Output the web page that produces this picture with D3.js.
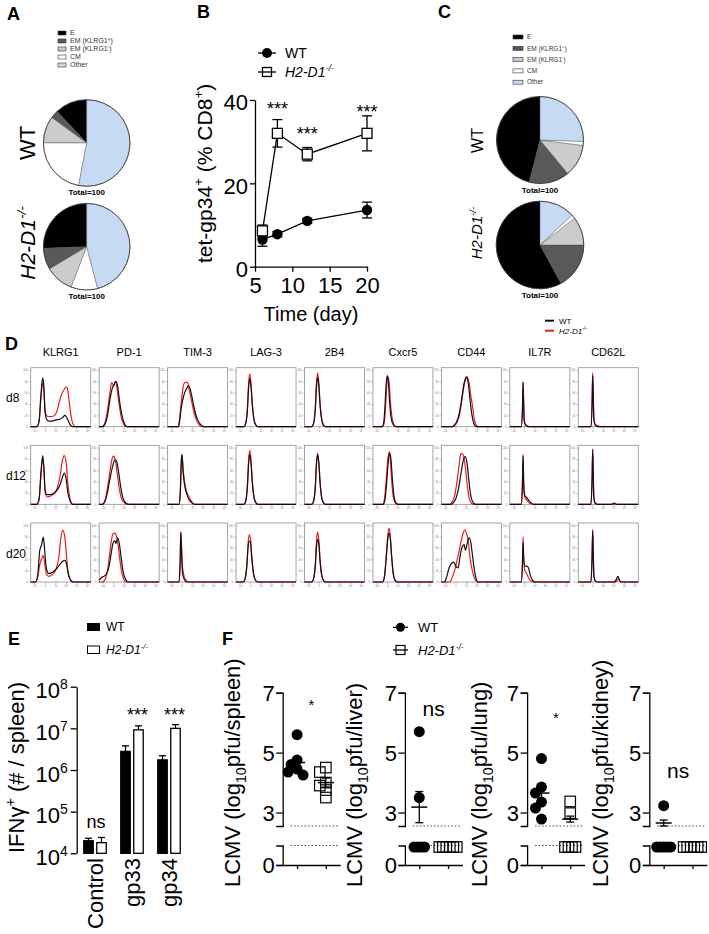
<!DOCTYPE html>
<html><head><meta charset="utf-8">
<script src="https://cdn.jsdelivr.net/npm/d3@7"></script>
<style>
body{margin:0;background:#fff}
svg{display:block}
text{font-family:"Liberation Sans",Arial,Helvetica,sans-serif}
</style>
</head><body>
<svg id="c" width="709" height="934"></svg>
<script>
// ---------------- DATA ----------------
const pieCategories = ["E","EM (KLRG1+)","EM (KLRG1-)","CM","Other"];
const pieA_WT = [12, 3, 10, 22, 53];
const pieA_KO = [25.6, 8, 10.6, 9.9, 45.9];
const pieC_WT = [46, 15, 12, 1.5, 25.5];
const pieC_KO = [58, 17, 10.5, 1.5, 13];

const daysB = [6, 8, 12, 20];
const wtB = [6.5, 7.8, 11, 13.6];
const wtBerr = [1.6, 0.6, 0.6, 1.9];
const koB = [8.6, 32, 27, 32];
const koBerr = [1.4, 3.3, 1.6, 4.2];
const sigDaysB = [8, 12, 20];
const sigYB = [38.8, 32.8, 38.2];
const sigTextB = ["***", "***", "***"];
const yTicksB = [0, 20, 40];
const xTicksB = [5, 10, 15, 20];

const histMarkers = ["KLRG1","PD-1","TIM-3","LAG-3","2B4","Cxcr5","CD44","IL7R","CD62L"];
const histDays = ["d8","d12","d20"];
const histTickLabelsX = ["-10³","0","10³","10⁴","10⁵","10⁶"];
const histTickLabelsY = [0, 20, 40, 60, 80, 100];
// each: [ [WT, KO] for d8, d12, d20 ] ; points = [x %, y % of max]
const hKLRG1 = [
 [[[10,0],[14,10],[17,55],[20,86],[22,70],[24,25],[27,12],[30,10],[36,10],[42,12],[48,13],[53,16],[57,20],[59,18],[62,12],[65,5],[68,1],[71,0]],
  [[10,0],[14,10],[17,50],[20,78],[22,62],[24,28],[27,19],[30,18],[35,18],[40,20],[44,28],[48,45],[52,58],[56,66],[59,70],[61,68],[63,55],[66,28],[69,10],[72,2],[76,0]]],
 [[[10,0],[14,10],[17,55],[20,86],[22,65],[24,25],[27,17],[32,17],[38,19],[44,25],[49,35],[53,48],[56,55],[59,45],[62,20],[66,5],[70,0]],
  [[10,0],[14,8],[17,50],[20,82],[22,60],[24,22],[27,13],[32,14],[38,18],[44,28],[49,50],[53,78],[56,86],[59,75],[62,35],[66,8],[70,0]]],
 [[[8,0],[12,15],[15,55],[18,65],[21,79],[23,60],[26,25],[30,15],[36,17],[42,22],[48,30],[53,36],[57,38],[60,30],[63,12],[67,3],[70,0]],
  [[8,0],[12,10],[15,30],[18,40],[21,47],[23,35],[26,15],[30,10],[36,13],[42,22],[47,45],[50,75],[53,91],[56,85],[59,55],[62,20],[66,4],[70,0]]]
];
const hPD1 = [
 [[[5,0],[10,5],[14,20],[18,48],[22,68],[25,74],[28,80],[31,70],[34,45],[38,20],[42,6],[46,0]],
  [[5,0],[10,8],[14,30],[18,60],[21,78],[24,72],[27,80],[30,66],[33,42],[37,16],[41,4],[45,0]]],
 [[[5,0],[10,6],[14,22],[18,45],[22,65],[26,78],[29,76],[32,60],[36,30],[40,10],[45,2],[50,0]],
  [[5,0],[10,8],[14,30],[18,58],[21,78],[24,85],[27,78],[30,55],[34,25],[38,8],[43,2],[48,0]]],
 [[[0,3],[4,8],[8,10],[12,14],[16,25],[20,50],[23,68],[26,73],[28,68],[31,78],[34,65],[37,40],[40,18],[44,5],[48,0]],
  [[0,0],[5,0],[9,3],[13,15],[17,45],[20,70],[23,85],[26,86],[29,80],[32,62],[35,35],[38,15],[42,3],[46,0]]]
];
const hTIM3 = [
 [[[18,0],[20,10],[23,35],[27,55],[31,66],[35,72],[38,65],[42,45],[46,25],[50,12],[55,4],[60,0]],
  [[18,0],[20,15],[23,45],[27,75],[30,78],[33,78],[36,65],[40,45],[44,25],[48,12],[53,3],[58,0]]],
 [[[19,0],[21,20],[23,80],[24,88],[26,55],[29,30],[32,18],[36,8],[40,3],[45,0]],
  [[19,0],[21,15],[23,75],[24,86],[26,60],[29,35],[32,22],[36,12],[40,5],[47,0]]],
 [[[19,0],[21,40],[22,88],[23,60],[25,15],[28,4],[32,0]],
  [[19,0],[21,35],[22,88],[23,70],[25,25],[28,8],[32,2],[36,0]]]
];
const hLAG3 = [
 [[[13,0],[16,5],[19,30],[21,70],[23,85],[25,70],[27,40],[30,12],[33,3],[36,0]],
  [[13,0],[16,6],[19,35],[21,78],[23,93],[25,75],[27,42],[30,12],[33,3],[36,0]]],
 [[[13,0],[16,5],[19,32],[21,72],[23,88],[25,72],[27,40],[30,12],[33,3],[36,0]],
  [[13,0],[16,6],[19,36],[21,80],[23,95],[25,76],[27,42],[30,12],[33,3],[36,0]]],
 [[[12,0],[15,5],[18,28],[20,60],[22,72],[24,70],[26,45],[29,15],[32,4],[36,0]],
  [[12,0],[15,6],[18,32],[20,68],[22,83],[24,78],[26,48],[29,16],[32,4],[36,0]]]
];
const h2B4 = [
 [[[12,0],[15,5],[18,30],[20,70],[22,87],[24,70],[26,38],[29,10],[32,2],[35,0]],
  [[12,0],[15,6],[18,35],[20,78],[22,95],[24,75],[26,40],[29,12],[32,3],[35,0]]],
 [[[12,0],[15,5],[18,30],[20,72],[22,88],[24,70],[26,38],[29,10],[32,2],[35,0]],
  [[12,0],[15,5],[18,32],[20,74],[22,90],[24,72],[26,38],[29,10],[32,2],[35,0]]],
 [[[12,0],[15,5],[18,28],[20,62],[22,75],[24,65],[26,36],[29,10],[32,2],[35,0]],
  [[12,0],[15,6],[18,32],[20,72],[22,88],[24,72],[26,38],[29,11],[32,2],[35,0]]]
];
const hCxcr5 = [
 [[[15,0],[18,8],[20,35],[22,75],[24,90],[26,75],[28,40],[31,12],[34,3],[38,0]],
  [[16,0],[19,8],[21,35],[23,72],[25,88],[27,78],[29,45],[32,15],[35,4],[39,0]]],
 [[[17,0],[20,8],[23,40],[26,80],[28,90],[30,80],[32,50],[35,15],[38,3],[42,0]],
  [[16,0],[19,8],[22,42],[25,82],[27,93],[29,78],[31,45],[34,12],[37,3],[41,0]]],
 [[[16,0],[19,8],[22,40],[25,78],[27,86],[29,76],[31,48],[34,15],[37,3],[41,0]],
  [[16,0],[19,8],[22,45],[25,85],[27,95],[29,80],[31,46],[34,12],[37,3],[41,0]]]
];
const hCD44 = [
 [[[18,0],[22,3],[26,10],[30,25],[34,50],[37,72],[40,85],[42,88],[45,75],[48,45],[51,20],[54,6],[58,0]],
  [[18,0],[22,2],[26,8],[30,20],[34,45],[37,68],[40,82],[43,88],[46,78],[49,55],[52,35],[55,12],[58,3],[62,0]]],
 [[[16,0],[20,3],[24,10],[28,25],[32,50],[35,70],[38,82],[40,84],[43,70],[46,40],[49,15],[53,3],[57,0]],
  [[14,0],[18,4],[22,15],[26,40],[29,65],[32,88],[34,90],[37,85],[40,65],[43,35],[46,12],[50,2],[54,0]]],
 [[[5,0],[9,10],[13,25],[17,33],[21,35],[24,28],[28,25],[31,45],[34,60],[38,66],[40,56],[43,68],[46,78],[49,70],[52,45],[54,28],[57,10],[61,0]],
  [[14,0],[18,8],[22,20],[26,38],[31,62],[35,82],[39,92],[42,85],[45,70],[48,40],[52,18],[56,5],[60,0]]]
];
const hIL7R = [
 [[[19,0],[21,30],[22,78],[23,40],[24,10],[26,3],[30,0]],
  [[19,0],[21,30],[22,80],[23,45],[24,12],[26,4],[30,1],[35,0]]],
 [[[19,0],[21,35],[22,85],[23,40],[25,15],[28,12],[31,8],[35,3],[40,0]],
  [[19,0],[21,35],[22,88],[23,40],[25,12],[28,8],[31,4],[35,1],[40,0]]],
 [[[19,0],[21,30],[22,70],[23,45],[25,28],[28,28],[31,25],[34,12],[38,3],[42,0]],
  [[19,0],[21,35],[22,80],[23,40],[25,20],[28,15],[31,8],[35,2],[40,0]]]
];
const hCD62L = [
 [[[21,0],[23,40],[24,90],[25,50],[26,12],[28,3],[32,0]],
  [[21,0],[23,45],[24,95],[25,55],[26,15],[28,5],[34,1],[40,0]]],
 [[[21,0],[23,45],[24,96],[25,50],[26,10],[28,2],[32,0],[55,0],[60,2],[64,0]],
  [[21,0],[23,45],[24,98],[25,50],[26,12],[28,3],[32,0]]],
 [[[21,0],[23,45],[24,90],[25,45],[26,10],[28,2],[32,0],[60,0],[63,4],[66,10],[68,5],[71,0]],
  [[21,0],[23,45],[24,93],[25,50],[26,12],[28,3],[32,0],[62,0],[65,3],[67,5],[69,2],[72,0]]]
];

const catsE = ["Control", "gp33", "gp34"];
const wtE = [2.0e4, 2.8e6, 1.75e6];
const wtEerr = [0.3e4, 1.0e6, 0.45e6];
const koE = [1.8e4, 9.2e6, 1.0e7];
const koEerr = [0.6e4, 2.3e6, 2.3e6];
const sigE = ["ns", "***", "***"];
const yTicksE = [1e4, 1e5, 1e6, 1e7, 1e8];

const organsF = ["spleen", "liver", "lung", "kidney"];
// null = below detection (plotted on the lower dotted line)
const fWT_spleen = [5.6, 4.75, 4.6, 4.45, 4.35, 4.25];
const fKO_spleen = [4.5, 4.35, 4.0, 3.9, 3.75, 3.5];
const fWT_liver = [5.7, 3.5, null, null, null, null];
const fKO_liver = [null, null, null, null, null, null];
const fWT_lung = [4.8, 3.85, 3.65, 3.35, 3.15, 2.78];
const fKO_lung = [3.37, 2.98, null, null, null, null];
const fWT_kidney = [3.23, null, null, null, null, null];
const fKO_kidney = [null, null, null, null, null, null];
const fMeanWT = [4.67, 3.18, 3.65, 2.65];
const fSemWT = [0.15, 0.52, 0.3, 0.1];
const fMeanKO = [4.0, 2.47, 2.78, 2.47];
const fSemKO = [0.15, 0, 0.1, 0];
const fSig = ["*", "ns", "*", "ns"];
const fSigY = [6.7, 6.4, 6.25, 4.35];
const yTicksF = [3, 5, 7];

// ---------------- HELPERS ----------------
const svg = d3.select("#c");
const pieColors = ["#000000", "#595959", "#cccccc", "#ffffff", "#c6dbf3"];

function rich(sel, parts, fs) {
  let shift = 0;
  parts.forEach(([t, type]) => {
    const ts = sel.append("tspan").text(t);
    let target = 0;
    if (type.includes("sup")) { ts.attr("font-size", fs * 0.65); target = -fs * 0.42; }
    if (type.includes("sub")) { ts.attr("font-size", fs * 0.65); target = fs * 0.25; }
    if (type.includes("it")) ts.attr("font-style", "italic");
    if (target !== shift) { ts.attr("dy", target - shift); shift = target; }
  });
}
const koParts = [["H2-D1", "it"], ["-/-", "itsup"]];

function letter(t, x, y) {
  svg.append("text").attr("x", x).attr("y", y).attr("font-size", 18)
    .attr("font-weight", "bold").text(t);
}
function styleAxis(g, fs, sw) {
  g.attr("font-family", '"Liberation Sans",Arial,sans-serif').attr("font-size", fs);
  g.selectAll("path,line").attr("stroke", "#000").attr("stroke-width", sw);
  g.selectAll("text").attr("fill", "#000");
}

// ---------------- PANEL LETTERS ----------------
letter("A", 7, 20); letter("B", 197, 18); letter("C", 438, 18);
letter("D", 5, 350); letter("E", 8, 645); letter("F", 222, 645);

// ---------------- PIES (A, C) ----------------
function legendLabel(sel, label, fs) {
  const m = label.match(/^(.*KLRG1)([+-])\)$/);
  if (m) rich(sel, [[m[1], "n"], [m[2], "sup"], [")", "n"]], fs);
  else sel.text(label);
}
function pieLegend(x, y0, dy, sw, sh, fs) {
  pieCategories.forEach((c, i) => {
    const y = y0 + i * dy;
    svg.append("rect").attr("x", x).attr("y", y - sh / 2).attr("width", sw).attr("height", sh)
      .attr("fill", pieColors[i]).attr("stroke", "#333").attr("stroke-width", 0.6);
    const t = svg.append("text").attr("x", x + sw + 4).attr("y", y + fs * 0.35)
      .attr("font-size", fs).attr("fill", "#333");
    legendLabel(t, c, fs);
  });
}
function drawPie(cx, cy, r, vals) {
  const pie = d3.pie().sort(null).value(d => d).startAngle(0).endAngle(-2 * Math.PI);
  const arc = d3.arc().innerRadius(0).outerRadius(r);
  const g = svg.append("g").attr("transform", `translate(${cx},${cy})`);
  g.selectAll("path").data(pie(vals)).join("path").attr("d", arc)
    .attr("fill", (d, i) => pieColors[i]).attr("stroke", "#444").attr("stroke-width", 0.4);
  g.append("circle").attr("r", r).attr("fill", "none").attr("stroke", "#333").attr("stroke-width", 0.8);
  g.append("text").attr("y", r + 9).attr("text-anchor", "middle").attr("font-size", 8)
    .attr("font-weight", "bold").text("Total=100");
}
function rotLabel(x, y, fs, isKO) {
  const t = svg.append("text").attr("transform", `translate(${x},${y}) rotate(-90)`)
    .attr("text-anchor", "middle").attr("font-size", fs);
  if (isKO) rich(t, koParts, fs); else t.text("WT");
}
pieLegend(58, 33, 8, 8, 4, 7);
drawPie(86.7, 143, 43.3, pieA_WT);
drawPie(86.7, 246.7, 43.3, pieA_KO);
rotLabel(35, 143, 22, false);
rotLabel(35, 243, 21, true);

pieLegend(513, 37, 11.3, 10, 4, 6.5);
drawPie(540, 140, 43.5, pieC_WT);
drawPie(540, 245, 43.8, pieC_KO);
rotLabel(483, 140.5, 16, false);
rotLabel(482, 233, 15, true);

// ---------------- PANEL B ----------------
(function () {
  const x = d3.scaleLinear([5, 20], [255, 367]);
  const y = d3.scaleLinear([0, 40], [266.7, 100]);
  const gy = svg.append("g").attr("transform", "translate(255,0)")
    .call(d3.axisLeft(y).tickValues(yTicksB).tickSize(5).tickSizeOuter(0).tickPadding(2));
  styleAxis(gy, 22, 1.3);
  gy.selectAll("text").attr("dy", "0.45em");
  const gx = svg.append("g").attr("transform", "translate(0,266.7)")
    .call(d3.axisBottom(x).tickValues(xTicksB).tickSize(5).tickSizeOuter(0).tickPadding(6));
  styleAxis(gx, 22, 1.3);
  svg.append("text").attr("x", 311).attr("y", 321).attr("text-anchor", "middle")
    .attr("font-size", 20).text("Time (day)");
  const yl = svg.append("text").attr("transform", "translate(212,263) rotate(-90)").attr("font-size", 21);
  rich(yl, [["tet-gp34", "n"], ["+", "sup"], [" (% CD8", "n"], ["+", "sup"], [")", "n"]], 21);

  const line = d3.line().x(d => x(d[0])).y(d => y(d[1]));
  const wt = daysB.map((d, i) => [d, wtB[i], wtBerr[i]]);
  const ko = daysB.map((d, i) => [d, koB[i], koBerr[i]]);
  [wt, ko].forEach(s => {
    svg.append("path").attr("d", line(s)).attr("fill", "none").attr("stroke", "#000").attr("stroke-width", 1.3);
    s.forEach(p => {
      const xx = x(p[0]), y1 = y(p[1] + p[2]), y2 = y(p[1] - p[2]);
      svg.append("line").attr("x1", xx).attr("x2", xx).attr("y1", y1).attr("y2", y2).attr("stroke", "#000").attr("stroke-width", 1.3);
      [y1, y2].forEach(yy => svg.append("line").attr("x1", xx - 5).attr("x2", xx + 5).attr("y1", yy).attr("y2", yy).attr("stroke", "#000").attr("stroke-width", 1.3));
    });
  });
  wt.forEach(p => svg.append("circle").attr("cx", x(p[0])).attr("cy", y(p[1])).attr("r", 5.2).attr("fill", "#000"));
  ko.forEach(p => svg.append("rect").attr("x", x(p[0]) - 5).attr("y", y(p[1]) - 5).attr("width", 10).attr("height", 10)
    .attr("fill", "#fff").attr("stroke", "#000").attr("stroke-width", 1.3));
  sigDaysB.forEach((d, i) => svg.append("text").attr("x", x(d)).attr("y", y(sigYB[i]) + 10)
    .attr("text-anchor", "middle").attr("font-size", 18).text(sigTextB[i]));
  // legend
  svg.append("line").attr("x1", 258).attr("x2", 276).attr("y1", 53).attr("y2", 53).attr("stroke", "#000").attr("stroke-width", 1.3);
  svg.append("circle").attr("cx", 267).attr("cy", 53).attr("r", 5).attr("fill", "#000");
  svg.append("text").attr("x", 285).attr("y", 58).attr("font-size", 14).text("WT");
  svg.append("line").attr("x1", 258).attr("x2", 276).attr("y1", 72).attr("y2", 72).attr("stroke", "#000").attr("stroke-width", 1.3);
  svg.append("rect").attr("x", 262.5).attr("y", 67.5).attr("width", 9).attr("height", 9).attr("fill", "none").attr("stroke", "#000").attr("stroke-width", 1.3);
  const lt = svg.append("text").attr("x", 285).attr("y", 77).attr("font-size", 14);
  rich(lt, koParts, 14);
})();

// ---------------- PANEL D ----------------
(function () {
  const hData = [hKLRG1, hPD1, hTIM3, hLAG3, h2B4, hCxcr5, hCD44, hIL7R, hCD62L];
  const colX = d3.scaleBand(histMarkers, [30.7, 30.7 + 68.45 * 9]);
  const rowY = d3.scaleBand(histDays, [367.7, 367.7 + 77.65 * 3]);
  const W = 60, H = 59;
  histMarkers.forEach(m => svg.append("text").attr("x", colX(m) + W / 2).attr("y", 356)
    .attr("text-anchor", "middle").attr("font-size", 11).text(m));
  histDays.forEach(d => svg.append("text").attr("x", 6).attr("y", rowY(d) + H / 2 + 5)
    .attr("font-size", 12).text(d));
  hData.forEach((col, ci) => {
    col.forEach((pair, ri) => {
      const x0 = colX(histMarkers[ci]), y0 = rowY(histDays[ri]);
      const hx = d3.scaleLinear([0, 100], [x0, x0 + W]);
      const hy = d3.scaleLinear([0, 104], [y0 + H, y0]);
      const g = svg.append("g");
      g.append("rect").attr("x", x0).attr("y", y0).attr("width", W).attr("height", H)
        .attr("fill", "none").attr("stroke", "#9a9a9a").attr("stroke-width", 0.9);
      const ya = g.append("g").attr("transform", `translate(${x0},0)`)
        .call(d3.axisLeft(hy).tickValues(histTickLabelsY).tickSize(2).tickPadding(1));
      ya.select(".domain").remove();
      ya.selectAll("line").attr("stroke", "#888").attr("stroke-width", 0.5);
      ya.selectAll("text").attr("font-size", 2.6).attr("fill", "#777");
      const tx = d3.scalePoint(histTickLabelsX, [x0 + 3.6, x0 + W - 3.6]);
      const xa = g.append("g").attr("transform", `translate(0,${y0 + H})`)
        .call(d3.axisBottom(tx).tickSize(2).tickPadding(1));
      xa.select(".domain").remove();
      xa.selectAll("line").attr("stroke", "#888").attr("stroke-width", 0.5);
      xa.selectAll("text").attr("font-size", 2.6).attr("fill", "#777");
      const line = d3.line().x(d => hx(d[0])).y(d => hy(d[1])).curve(d3.curveMonotoneX);
      const ext = pts => {
        const p = pts.slice();
        if (p[0][0] > 0) p.unshift([0, 0]);
        if (p[p.length - 1][0] < 100) p.push([100, 0]);
        return p;
      };
      g.append("path").attr("d", line(ext(pair[1]))).attr("fill", "none").attr("stroke", "#ee1c1c").attr("stroke-width", 1.2);
      g.append("path").attr("d", line(ext(pair[0]))).attr("fill", "none").attr("stroke", "#111").attr("stroke-width", 1.2);
    });
  });
  // legend
  svg.append("line").attr("x1", 545).attr("x2", 554).attr("y1", 320.7).attr("y2", 320.7).attr("stroke", "#111").attr("stroke-width", 2);
  svg.append("text").attr("x", 559).attr("y", 323.5).attr("font-size", 8).text("WT");
  svg.append("line").attr("x1", 545).attr("x2", 554).attr("y1", 330.7).attr("y2", 330.7).attr("stroke", "#ee1c1c").attr("stroke-width", 2);
  const lt = svg.append("text").attr("x", 559).attr("y", 333.5).attr("font-size", 8);
  rich(lt, koParts, 8);
})();

// ---------------- PANEL E ----------------
(function () {
  const y = d3.scaleLog([1e4, 1e8], [853.3, 686.7]);
  const x = d3.scaleBand(catsE, [76.5, 187.5]);
  const xs = d3.scaleBand(["WT", "KO"], [0, x.bandwidth()]).paddingInner(0.27).paddingOuter(0.56);
  const gy = svg.append("g").attr("transform", "translate(76.7,0)")
    .call(d3.axisLeft(y).tickValues(yTicksE).tickSize(6).tickSizeOuter(0).tickPadding(3));
  styleAxis(gy, 22, 1.3);
  gy.selectAll(".tick text").text(null).attr("dy", "0.5em").each(function (d) {
    const t = d3.select(this);
    t.append("tspan").text("10");
    t.append("tspan").attr("font-size", 14).attr("dy", -9).text(Math.round(Math.log10(d)));
  });
  const yl = svg.append("text").attr("transform", "translate(24,853) rotate(-90)").attr("font-size", 22);
  rich(yl, [["IFNγ", "n"], ["+", "sup"], [" (# / spleen)", "n"]], 22);
  const series = [[wtE, wtEerr, "WT", "#000"], [koE, koEerr, "KO", "#fff"]];
  catsE.forEach((c, i) => {
    series.forEach(([vals, errs, key, fill]) => {
      const bx = x(c) + xs(key), bw = xs.bandwidth();
      const top = y(vals[i]), et = y(vals[i] + errs[i]);
      svg.append("line").attr("x1", bx + bw / 2).attr("x2", bx + bw / 2).attr("y1", top).attr("y2", et).attr("stroke", "#000").attr("stroke-width", 1.3);
      svg.append("line").attr("x1", bx + bw / 2 - 3.5).attr("x2", bx + bw / 2 + 3.5).attr("y1", et).attr("y2", et).attr("stroke", "#000").attr("stroke-width", 1.3);
      svg.append("rect").attr("x", bx).attr("y", top).attr("width", bw).attr("height", y(1e4) - top)
        .attr("fill", fill).attr("stroke", "#000").attr("stroke-width", 1.3);
    });
    const cx = x(c) + x.bandwidth() / 2;
    svg.append("text").attr("transform", `translate(${cx + 8},858) rotate(-90)`).attr("text-anchor", "end")
      .attr("font-size", 22).text(c);
    if (sigE[i] === "ns") svg.append("text").attr("x", cx + 1).attr("y", 828).attr("text-anchor", "middle").attr("font-size", 18).text("ns");
    else svg.append("text").attr("x", cx + 5.5).attr("y", 721).attr("text-anchor", "middle").attr("font-size", 18).text(sigE[i]);
  });
  svg.append("rect").attr("x", 87).attr("y", 623).attr("width", 13).attr("height", 8).attr("fill", "#000");
  svg.append("text").attr("x", 106).attr("y", 631).attr("font-size", 12).text("WT");
  svg.append("rect").attr("x", 87.5).attr("y", 646).attr("width", 12).attr("height", 7.5).attr("fill", "#fff").attr("stroke", "#000").attr("stroke-width", 1);
  const lt = svg.append("text").attr("x", 106).attr("y", 654).attr("font-size", 12);
  rich(lt, koParts, 12);
})();

// ---------------- PANEL F ----------------
(function () {
  const wtSets = [fWT_spleen, fWT_liver, fWT_lung, fWT_kidney];
  const koSets = [fKO_spleen, fKO_liver, fKO_lung, fKO_kidney];
  const yU = d3.scaleLinear([2.55, 7], [826, 692.7]);
  const yL = d3.scaleLinear([0, 0.65], [865, 845.5]);
  const ND = 0.6;
  const panelX = d3.scaleBand(organsF, [282.7, 282.7 + 122.2 * 4]);
  const labelX = [240, 362, 487, 608];
  const fmt = d3.format("d");
  organsF.forEach((org, i) => {
    const x0 = panelX(org);
    const x = d3.scalePoint(["WT", "KO"], [x0, x0 + 57.5]).padding(0.5);
    const gu = svg.append("g").attr("transform", `translate(${x0},0)`)
      .call(d3.axisLeft(yU).tickValues(yTicksF).tickFormat(fmt).tickSize(6.5).tickSizeOuter(6.5).tickPadding(1.5));
    styleAxis(gu, 22, 1.3);
    gu.selectAll("text").attr("dy", "0.36em");
    const gl = svg.append("g").attr("transform", `translate(${x0},0)`)
      .call(d3.axisLeft(yL).tickValues([0]).tickFormat(fmt).tickSize(6.5).tickSizeOuter(6.5).tickPadding(1.5));
    styleAxis(gl, 22, 1.3);
    gl.selectAll("text").attr("dy", "0.36em");
    const gx = svg.append("g").attr("transform", "translate(0,865)")
      .call(d3.axisBottom(x).tickSize(4).tickSizeOuter(0).tickFormat(""));
    styleAxis(gx, 10, 1.3);
    [yU(2.55), yL(0.65)].forEach(yy => svg.append("line").attr("x1", x0 + 8).attr("x2", x0 + 56)
      .attr("y1", yy).attr("y2", yy).attr("stroke", "#444").attr("stroke-width", 1).attr("stroke-dasharray", "1.5,2"));
    // y label
    const yl = svg.append("text").attr("transform", `translate(${labelX[i]},887) rotate(-90)`).attr("font-size", 22);
    rich(yl, [["LCMV (log", "n"], ["10", "sub"], ["pfu/" + org + ")", "n"]], 22);

    // points
    function place(vals, key, r) {
      const cx = x(key);
      const det = vals.filter(v => v !== null).sort((a, b) => b - a);
      const nd = vals.filter(v => v === null).length;
      const placed = [];
      det.forEach(v => {
        const yy = yU(v);
        const offs = [0, -3, 3, -6, 6, -9, 9, -12, 12];
        let o = offs.find(o => placed.every(p => Math.hypot(p[0] - (cx + o), p[1] - yy) >= r * 1.25)) ?? 0;
        placed.push([cx + o, yy]);
      });
      for (let k = 0; k < nd; k++) placed.push([cx + (k - (nd - 1) / 2) * 3.5, yL(ND)]);
      return placed;
    }
    place(wtSets[i], "WT", 5.5).forEach(p => svg.append("circle").attr("cx", p[0]).attr("cy", p[1]).attr("r", 5.5).attr("fill", "#000"));
    place(koSets[i], "KO", 5.25).forEach(p => svg.append("rect").attr("x", p[0] - 5.25).attr("y", p[1] - 5.25)
      .attr("width", 10.5).attr("height", 10.5).attr("fill", "none").attr("stroke", "#000").attr("stroke-width", 1.2));
    // mean +- sem (not drawn when every value is below detection)
    [["WT", fMeanWT[i], fSemWT[i]], ["KO", fMeanKO[i], fSemKO[i]]].forEach(([k, m, s]) => {
      if (s <= 0) return;
      const cx = x(k);
      svg.append("line").attr("x1", cx - 8).attr("x2", cx + 8).attr("y1", yU(m)).attr("y2", yU(m)).attr("stroke", "#000").attr("stroke-width", 1.5);
      svg.append("line").attr("x1", cx).attr("x2", cx).attr("y1", yU(m + s)).attr("y2", yU(m - s)).attr("stroke", "#000").attr("stroke-width", 1.3);
      [m + s, m - s].forEach(v => svg.append("line").attr("x1", cx - 4).attr("x2", cx + 4).attr("y1", yU(v)).attr("y2", yU(v)).attr("stroke", "#000").attr("stroke-width", 1.3));
    });
    // significance
    const sx = (x("WT") + x("KO")) / 2;
    if (fSig[i] === "ns") svg.append("text").attr("x", sx).attr("y", yU(fSigY[i]) + 5.5).attr("text-anchor", "middle").attr("font-size", 21).text("ns");
    else svg.append("text").attr("x", sx).attr("y", yU(fSigY[i]) + 8).attr("text-anchor", "middle").attr("font-size", 15).text(fSig[i]);
  });
  // legend
  svg.append("line").attr("x1", 393).attr("x2", 408).attr("y1", 627.3).attr("y2", 627.3).attr("stroke", "#000").attr("stroke-width", 1.3);
  svg.append("circle").attr("cx", 400.5).attr("cy", 627.3).attr("r", 4.5).attr("fill", "#000");
  svg.append("text").attr("x", 418).attr("y", 632).attr("font-size", 13).text("WT");
  svg.append("line").attr("x1", 393).attr("x2", 408).attr("y1", 650).attr("y2", 650).attr("stroke", "#000").attr("stroke-width", 1.3);
  svg.append("rect").attr("x", 396).attr("y", 645.5).attr("width", 9).attr("height", 9).attr("fill", "none").attr("stroke", "#000").attr("stroke-width", 1.2);
  const lt = svg.append("text").attr("x", 418).attr("y", 655).attr("font-size", 13);
  rich(lt, koParts, 13);
})();
</script>
</body></html>
